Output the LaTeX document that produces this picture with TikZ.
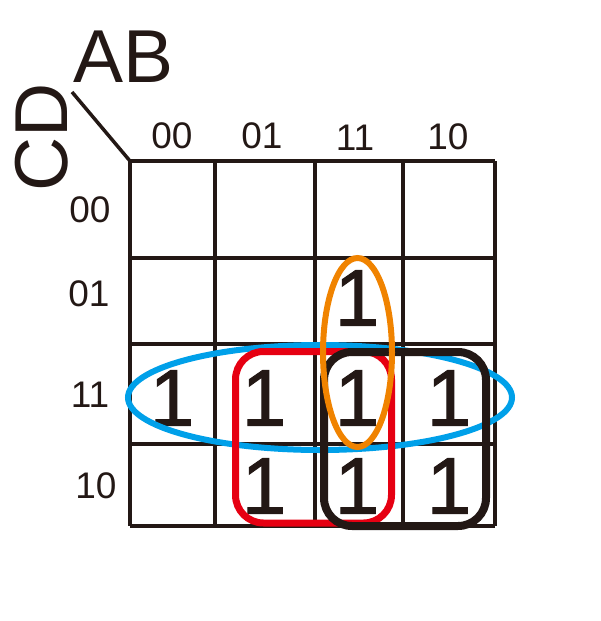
\documentclass[tikz,border=0pt]{standalone}
\usepackage{fontspec}
\setmainfont{Liberation Sans}
\newfontfamily\heavyfont[FakeBold=1.2]{Liberation Sans}
\definecolor{kink}{HTML}{231815}
\definecolor{kblue}{HTML}{00A0E9}
\definecolor{kred}{HTML}{E60012}
\definecolor{korange}{HTML}{F08300}
\begin{document}
\begin{tikzpicture}[x=1pt,y=-1pt,
  gridline/.style={draw=kink,line width=3.5pt},
  one/.style={inner sep=0pt,text=kink,font=\heavyfont\fontsize{80}{80}\selectfont},
  lab/.style={inner sep=0pt,text=kink,font=\fontsize{37}{37}\selectfont},
  var/.style={inner sep=0pt,text=kink,font=\fontsize{75}{75}\selectfont},
  loop/.style={line width=#1},
]
\useasboundingbox (0,0) rectangle (600,621);
% grid
\coordinate (tl) at (130,161);
\foreach \x in {130,215,315,403,495} \draw[gridline] (\x,161) -- (\x,526);
\foreach \y in {161,258,344,444,526} \draw[gridline] (130,\y) -- (495,\y);
% diagonal
\coordinate (dg) at (72,92);
\draw[draw=kink,line width=3.5pt] (dg) -- (tl);
% variable names
\node[var,anchor=south west] (ab) at (73,83) {AB};
\node[var,rotate=90,anchor=south west] (cd) at (68,192) {CD};
% column labels
\node[lab] (c00) at (172,136) {00};
\node[lab] (c01) at (262,136) {01};
\node[lab] (c11) at (355,138) {11};
\node[lab] (c10) at (448,137) {10};
% row labels
\node[lab] (r00) at (90,210) {00};
\node[lab] (r01) at (89,294) {01};
\node[lab] (r11) at (90,395) {11};
\node[lab] (r10) at (96,486) {10};
% ones
\node[one] (o1) at (172,398) {1};
\node[one] (o2) at (264,398) {1};
\node[one] (o3) at (357,398) {1};
\node[one] (o4) at (449,398) {1};
\node[one] (o5) at (357,298) {1};
\node[one] (o6) at (264,486) {1};
\node[one] (o7) at (357,486) {1};
\node[one] (o8) at (449,486) {1};
% loops
\draw[kblue,loop=6pt] (320,397.5) ellipse [x radius=192, y radius=52.5];
\draw[kred,loop=7pt,rounded corners=28pt] (235.5,351.5) rectangle (391.5,523);
\draw[kink,loop=8pt,rounded corners=28pt] (324,352) rectangle (486,526);
\draw[korange,loop=6pt] (357.5,352.5) ellipse [x radius=34.5, y radius=94.5];
\end{tikzpicture}
\end{document}
